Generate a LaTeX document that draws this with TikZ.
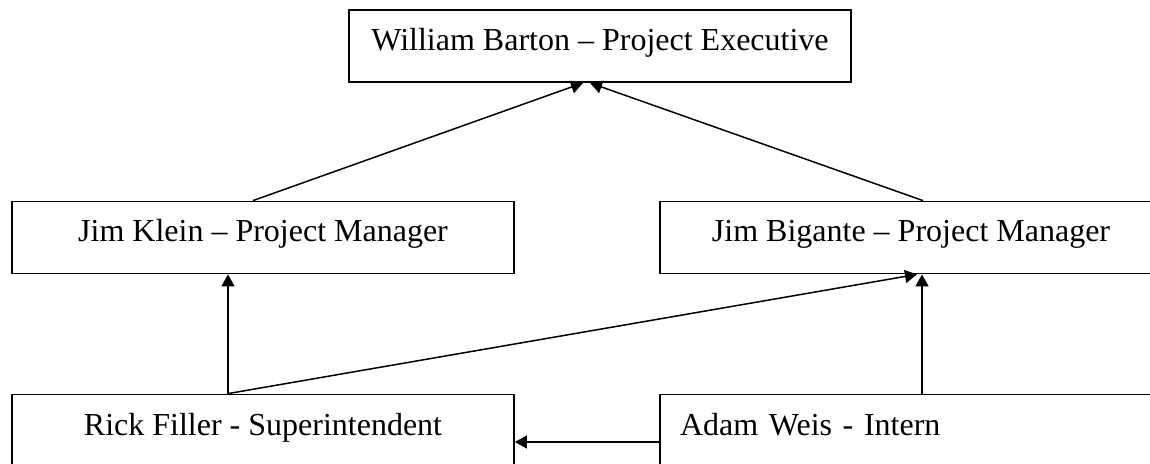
\documentclass[tikz,border=0pt]{standalone}
\usepackage{fontspec}
\setmainfont{Liberation Serif}
\usetikzlibrary{arrows.meta}
\begin{document}
\begin{tikzpicture}[x=0.5pt,y=-0.5pt,
    box/.style={draw,line width=0.9pt,inner sep=0pt,minimum width=251pt,minimum height=36pt,text height=0.7em,text depth=0.25em,font=\fontsize{16}{19}\selectfont},
    arr/.style={line width=0.75pt,-{Triangle[length=6pt,width=6.5pt]}}]
    \useasboundingbox (0,0) rectangle (1150,464);
    \clip (0,0) rectangle (1150,464);
    \node [box] (exec) at (600,46) {William Barton -- Project Executive};
    \node [box] (klein) at (263,237.5) {Jim Klein -- Project Manager};
    \node [box] (bigante) at (911,237.5) {Jim Bigante -- Project Manager};
    \node [box] (filler) at (263,430.5) {Rick Filler - Superintendent};
    \node [box,inner xsep=10pt,text width=231pt,align=left] (weis) at (911,430.5) {Adam Weis - Intern};
    \draw [arr] ([xshift=-5pt]klein.north)--([xshift=-8.5pt]exec.south);
    \draw [arr] ([xshift=6pt]bigante.north)--([xshift=-5pt]exec.south);
    \draw [arr] ([xshift=-17.5pt]filler.north)--([xshift=-17.5pt]klein.south);
    \draw [arr] ([xshift=-17.5pt]filler.north)--([xshift=3pt]bigante.south);
    \draw [arr] ([xshift=5.5pt]weis.north)--([xshift=5.5pt]bigante.south);
    \draw [arr] ([yshift=-5.75pt]weis.west)--([yshift=-5.75pt]filler.east);
\end{tikzpicture}
\end{document}
